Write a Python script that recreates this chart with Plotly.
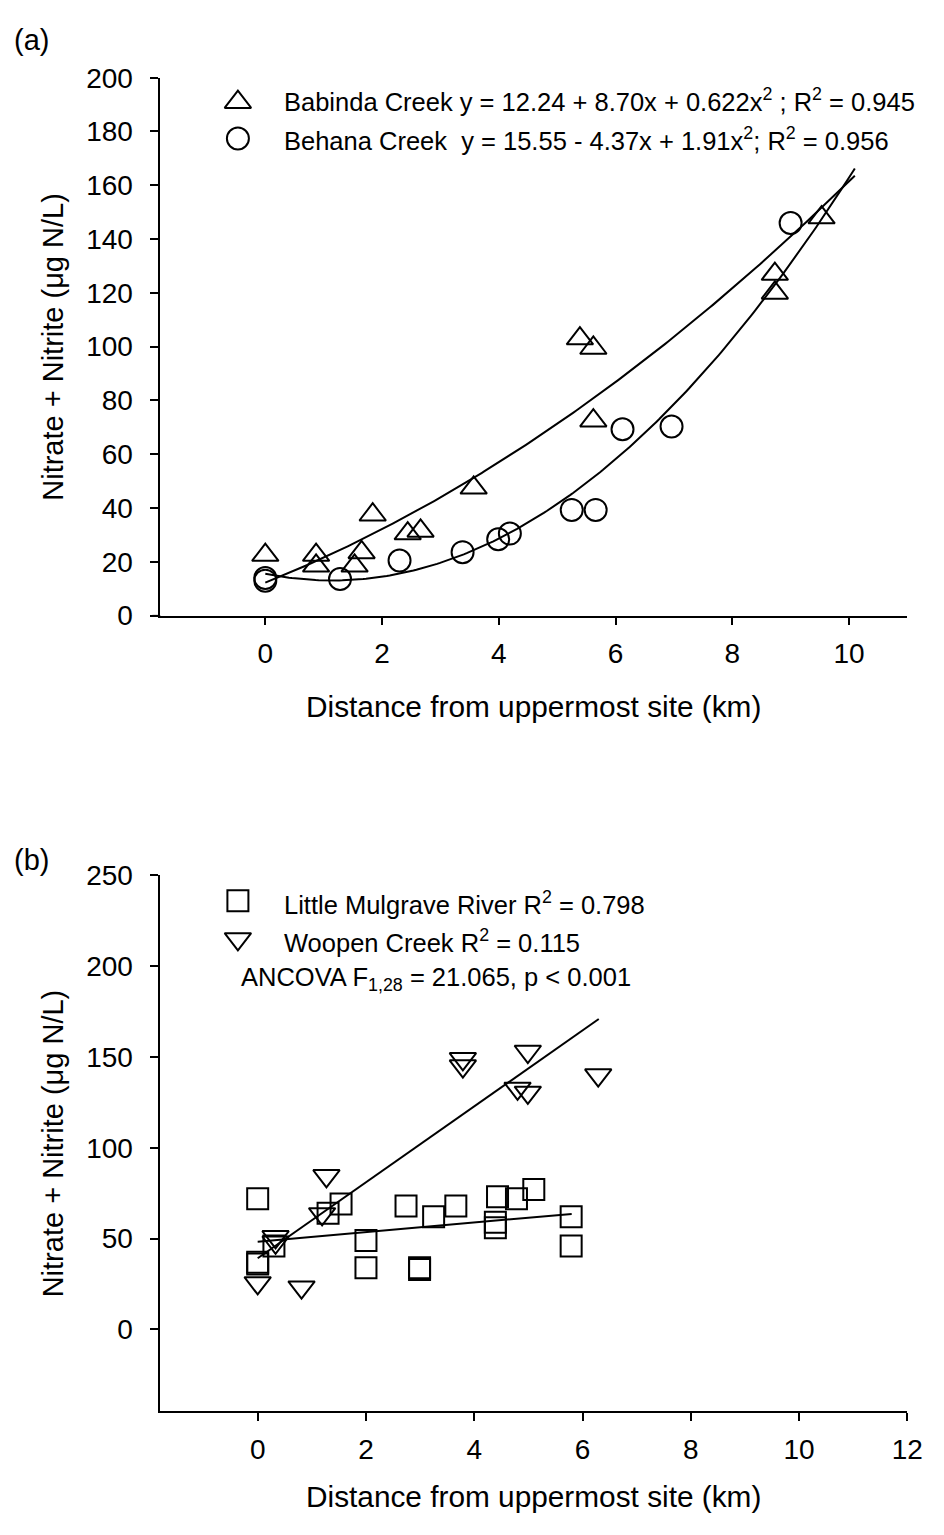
import numpy as np
import plotly.graph_objects as go

W, H = 944, 1535
FONT = "Liberation Sans, Arial, sans-serif"

# ---------------- Panel (a) data ----------------
babinda_x = [0.0, 0.87, 0.87, 1.53, 1.65, 1.84, 2.44, 2.66, 3.57, 5.39, 5.62, 5.62, 8.73, 8.73, 9.53]
babinda_y = [22.5, 22.5, 18.5, 18.5, 23.5, 37.5, 30.5, 31.5, 47.5, 103, 99.5, 72.5, 127, 120, 148]
behana_x = [0.0, 0.0, 1.28, 2.30, 3.38, 3.99, 4.19, 5.25, 5.66, 6.12, 6.96, 9.0]
behana_y = [14.0, 13.0, 13.6, 20.5, 23.6, 28.4, 30.5, 39.3, 39.3, 69.3, 70.3, 146]
babinda_coef = [12.24, 8.70, 0.622]   # y = a + b x + c x^2
behana_coef = [15.55, -4.37, 1.91]
fit_a_xmax = 10.1

# ---------------- Panel (b) data ----------------
mulgrave_x = [0, 0, 0, 0.30, 1.30, 1.54, 2.0, 2.0, 2.74, 3.25, 3.66, 2.99, 2.99, 4.43, 4.78, 5.10, 4.39, 4.39, 5.79, 5.79]
mulgrave_y = [72, 37, 36, 46, 64, 69, 49, 34, 68, 62, 68, 34, 33, 73, 72, 77, 59, 56, 62, 46]
woopen_x = [0.0, 0.81, 0.33, 0.33, 1.27, 1.19, 3.79, 3.79, 4.99, 4.80, 4.99, 6.29]
woopen_y = [25.6, 23.3, 51, 48, 84.6, 63.6, 149, 145, 153, 132.7, 130.5, 140]
mulgrave_line = [48.3, 2.64]   # intercept, slope
woopen_line = [39.2, 20.9]
mulgrave_xmax = 5.8
woopen_xmax = 6.3

xticks_a = [0, 2, 4, 6, 8, 10]
yticks_a = list(range(0, 201, 20))
xticks_b = [0, 2, 4, 6, 8, 10, 12]
yticks_b = [0, 50, 100, 150, 200, 250]

# ---------------- layout geometry (pixels) ----------------
L, R = 163, 923
A_TOP, A_BOT = 64, 613
B_TOP, B_BOT = 878, 1425


def py(p):
    return 1 - p / H


fig = go.Figure()

mk_line = dict(color="black", width=2)

# Panel (a) fitted curves
for coef in (babinda_coef, behana_coef):
    xs = np.linspace(0, fit_a_xmax, 200)
    ys = coef[0] + coef[1] * xs + coef[2] * xs ** 2
    fig.add_trace(go.Scatter(x=xs, y=ys, mode="lines", line=dict(color="black", width=2),
                             xaxis="x", yaxis="y", showlegend=False, hoverinfo="skip"))

fig.add_trace(go.Scatter(x=babinda_x, y=babinda_y, mode="markers", xaxis="x", yaxis="y",
                         marker=dict(symbol="triangle-up-open", size=23, color="black", line=mk_line),
                         showlegend=False, cliponaxis=False))
fig.add_trace(go.Scatter(x=behana_x, y=behana_y, mode="markers", xaxis="x", yaxis="y",
                         marker=dict(symbol="circle-open", size=22, color="black", line=mk_line),
                         showlegend=False, cliponaxis=False))

# Panel (b) lines
for (b0, b1), xm in ((mulgrave_line, mulgrave_xmax), (woopen_line, woopen_xmax)):
    xs = np.array([0.0, xm])
    fig.add_trace(go.Scatter(x=xs, y=b0 + b1 * xs, mode="lines", line=dict(color="black", width=2),
                             xaxis="x2", yaxis="y2", showlegend=False, hoverinfo="skip"))

fig.add_trace(go.Scatter(x=mulgrave_x, y=mulgrave_y, mode="markers", xaxis="x2", yaxis="y2",
                         marker=dict(symbol="square-open", size=21, color="black", line=mk_line),
                         showlegend=False, cliponaxis=False))
fig.add_trace(go.Scatter(x=woopen_x, y=woopen_y, mode="markers", xaxis="x2", yaxis="y2",
                         marker=dict(symbol="triangle-down-open", size=23, color="black", line=mk_line),
                         showlegend=False, cliponaxis=False))

# Legend symbols on a transparent pixel overlay axis
leg_sym = [("triangle-up-open", 242, 89, 23), ("circle-open", 242, 126, 22),
           ("square-open", 242, 904, 21), ("triangle-down-open", 242, 943, 23)]
for sym, lx, ly, sz in leg_sym:
    fig.add_trace(go.Scatter(x=[lx], y=[ly], mode="markers", xaxis="x3", yaxis="y3",
                             marker=dict(symbol=sym, size=sz, color="black", line=mk_line),
                             showlegend=False, hoverinfo="skip", cliponaxis=False))

axis_common = dict(showline=True, linecolor="black", linewidth=1.5, ticks="outside",
                   ticklen=8, tickwidth=1.5, tickcolor="black", showgrid=False, zeroline=False,
                   tickfont=dict(family=FONT, size=28, color="black"), mirror=False)

fig.update_layout(
    width=W, height=H, margin=dict(l=0, r=0, t=0, b=0),
    paper_bgcolor="white", plot_bgcolor="rgba(0,0,0,0)", showlegend=False,
    xaxis=dict(domain=[L / W, R / W], range=[-1.8, 11], tickvals=xticks_a, anchor="y",
               ticklabelstandoff=4, **axis_common),
    yaxis=dict(domain=[py(A_BOT), py(A_TOP)], range=[0, 200], tickvals=yticks_a, anchor="x",
               ticklabelstandoff=12, **axis_common),
    xaxis2=dict(domain=[L / W, R / W], range=[-1.8, 12], tickvals=xticks_b, anchor="y2",
                ticklabelstandoff=4, **axis_common),
    yaxis2=dict(domain=[py(B_BOT), py(B_TOP)], range=[-45, 250], tickvals=yticks_b, anchor="x2",
                ticklabelstandoff=12, **axis_common),
    xaxis3=dict(domain=[0, 1], range=[0, W], visible=False, anchor="y3"),
    yaxis3=dict(domain=[0, 1], range=[H, 0], visible=False, anchor="x3"),
    shapes=[dict(type="line", xref="paper", yref="paper", x0=155 / W, x1=L / W,
                 y0=py(A_BOT), y1=py(A_BOT), line=dict(color="black", width=1.5))],
)

ann = []


def add_text(text, x, y, size, xanchor="left", yanchor="middle", angle=0):
    ann.append(dict(text=text, x=x / W, y=py(y), xref="paper", yref="paper",
                    xanchor=xanchor, yanchor=yanchor, showarrow=False, textangle=angle,
                    font=dict(family=FONT, size=size, color="black")))


add_text("(a)", 12, 26, 29)
add_text("(b)", 12, 862, 29)

ytitle = "Nitrate + Nitrite (μg N/L)"
xtitle = "Distance from uppermost site (km)"
add_text(ytitle, 54, (A_TOP + A_BOT) / 2, 29, xanchor="center", angle=-90)
add_text(ytitle, 54, (B_TOP + B_BOT) / 2, 29, xanchor="center", angle=-90)
add_text(xtitle, (L + R) / 2, 706, 29.8, xanchor="center")
add_text(xtitle, (L + R) / 2, 1512, 29.8, xanchor="center")

add_text("Babinda Creek y = 12.24 + 8.70x + 0.622x<sup>2</sup> ; R<sup>2</sup> = 0.945", 287, 87, 25.5)
add_text("Behana Creek\u00a0 y = 15.55 - 4.37x + 1.91x<sup>2</sup>; R<sup>2</sup> = 0.956", 287, 127, 25.5)
add_text("Little Mulgrave River R<sup>2</sup> = 0.798", 287, 906, 25.5)
add_text("Woopen Creek R<sup>2</sup> = 0.115", 287, 945, 25.5)
add_text("ANCOVA F<sub>1,28</sub> = 21.065, p &lt; 0.001", 243, 984, 25.5)

fig.update_layout(annotations=ann)

fig.write_html("out.html")
